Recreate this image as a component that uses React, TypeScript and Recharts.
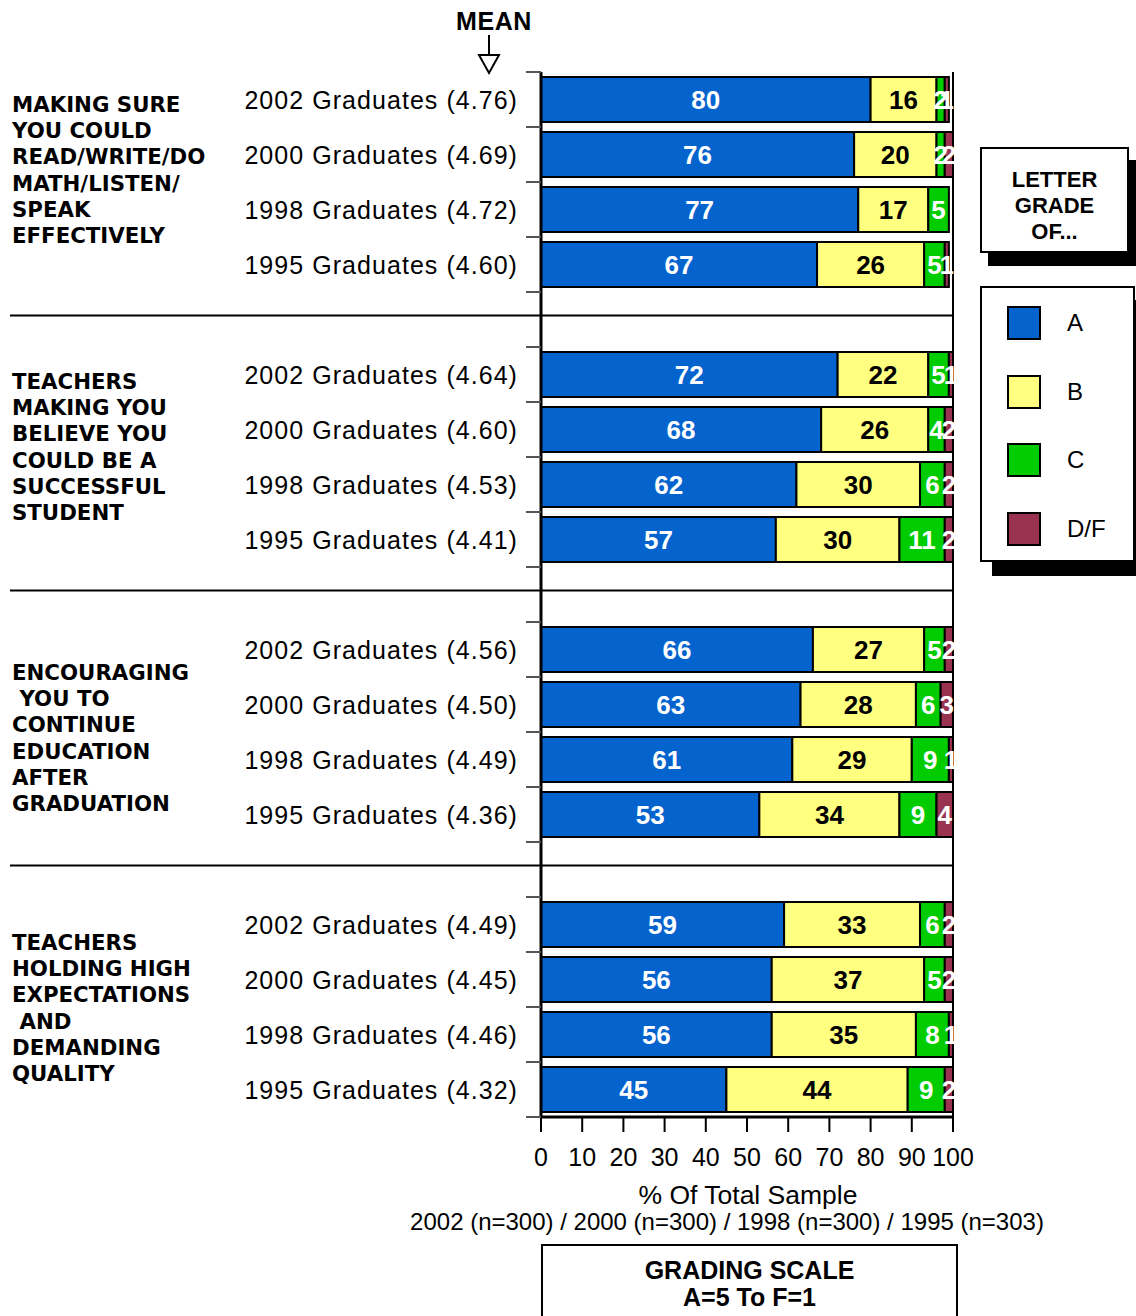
import React from "react"
import { Bar, BarChart, LabelList, ReferenceLine, XAxis, YAxis } from "recharts"

const groups = [
  ["MAKING SURE", "YOU COULD", "READ/WRITE/DO", "MATH/LISTEN/", "SPEAK", "EFFECTIVELY"],
  ["TEACHERS", "MAKING YOU", "BELIEVE YOU", "COULD BE A", "SUCCESSFUL", "STUDENT"],
  ["ENCOURAGING", " YOU TO", "CONTINUE", "EDUCATION", "AFTER", "GRADUATION"],
  ["TEACHERS", "HOLDING HIGH", "EXPECTATIONS", " AND", "DEMANDING", "QUALITY"],
]
const years = ["2002 Graduates", "2000 Graduates", "1998 Graduates", "1995 Graduates"]
const means = [
  [4.76, 4.69, 4.72, 4.6],
  [4.64, 4.6, 4.53, 4.41],
  [4.56, 4.5, 4.49, 4.36],
  [4.49, 4.45, 4.46, 4.32],
]
const gradeA = [
  [80, 76, 77, 67],
  [72, 68, 62, 57],
  [66, 63, 61, 53],
  [59, 56, 56, 45],
]
const gradeB = [
  [16, 20, 17, 26],
  [22, 26, 30, 30],
  [27, 28, 29, 34],
  [33, 37, 35, 44],
]
const gradeC = [
  [2, 2, 5, 5],
  [5, 4, 6, 11],
  [5, 6, 9, 9],
  [6, 5, 8, 9],
]
const gradeDF = [
  [1, 2, 0, 1],
  [1, 2, 2, 2],
  [2, 3, 1, 4],
  [2, 2, 1, 2],
]
const xTicks = [0, 10, 20, 30, 40, 50, 60, 70, 80, 90, 100]
const samples = "2002 (n=300) / 2000 (n=300) / 1998 (n=300) / 1995 (n=303)"

const series = [
  { key: "A", name: "A", color: "#0563CE", text: "#fff" },
  { key: "B", name: "B", color: "#FFFF80", text: "#000" },
  { key: "C", name: "C", color: "#00CC00", text: "#fff" },
  { key: "DF", name: "D/F", color: "#993350", text: "#fff" },
]

const FONT = "'Liberation Sans', Arial, sans-serif"
const W = 1136
const H = 1316
const M = { top: 72, right: 183, bottom: 139, left: 0 }
const X_AXIS_H = 60
const Y_AXIS_W = 541

type Row = { key: string; gap?: boolean; group?: number; idx?: number; label?: string; mean?: number; A?: number; B?: number; C?: number; DF?: number }

const rows: Row[] = []
groups.forEach((_, g) => {
  if (g > 0) rows.push({ key: `gap-${g}`, gap: true })
  years.forEach((y, i) => {
    rows.push({
      key: `${g}-${i}`,
      group: g,
      idx: i,
      label: y,
      mean: means[g][i],
      A: gradeA[g][i],
      B: gradeB[g][i],
      C: gradeC[g][i],
      DF: gradeDF[g][i],
    })
  })
})
const byKey: Record<string, Row> = Object.fromEntries(rows.map((r) => [r.key, r]))
const band = (H - M.top - M.bottom - X_AXIS_H) / rows.length
const labelShift = [-12, -10, 6, 1]

function RowTick(props: any) {
  const { y, payload } = props
  const row = byKey[payload.value]
  const axisX = Y_AXIS_W
  const ticks = (
    <>
      <line x1={axisX - 15} x2={axisX} y1={y - band / 2} y2={y - band / 2} stroke="#555" strokeWidth={2} />
      <line x1={axisX - 15} x2={axisX} y1={y + band / 2} y2={y + band / 2} stroke="#555" strokeWidth={2} />
    </>
  )
  if (!row || row.gap) {
    return (
      <g>
        {ticks}
        <line x1={10} x2={W - M.right} y1={y - 4} y2={y - 4} stroke="#000" strokeWidth={2} />
      </g>
    )
  }
  const lines = groups[row.group!]
  return (
    <g>
      {ticks}
      <text x={axisX - 23} y={y} textAnchor="end" dominantBaseline="central" fontFamily={FONT} fontSize={25} letterSpacing={1.05} fill="#000">
        {`${row.label} (${row.mean!.toFixed(2)})`}
      </text>
      {row.idx === 1 && (
        <text fontFamily="'DejaVu Sans', Verdana, sans-serif" fontWeight="bold" fontSize={21.3} fill="#000" xmlSpace="preserve">
          {lines.map((l, i) => (
            <tspan key={i} x={12} y={y + band / 2 + labelShift[row.group!] + (i - (lines.length - 1) / 2) * 26.2} dominantBaseline="central">
              {l}
            </tspan>
          ))}
        </text>
      )}
    </g>
  )
}

function segLabel(color: string) {
  return (p: any) => {
    const { x, y, width, height, value } = p
    if (!value) return null
    return (
      <text x={x + width / 2} y={y + height / 2} textAnchor="middle" dominantBaseline="central" fontFamily={FONT} fontWeight="bold" fontSize={26} fill={color}>
        {value}
      </text>
    )
  }
}

const boxStyle: React.CSSProperties = {
  position: "absolute",
  border: "2px solid #000",
  background: "#fff",
  boxSizing: "border-box",
}

export default function App() {
  return (
    <div style={{ position: "absolute", left: 0, top: 0, width: W, height: H, background: "#fff", fontFamily: FONT, overflow: "hidden" }}>
      <BarChart width={W} height={H} data={rows} layout="vertical" margin={M} barCategoryGap={5}>
        <XAxis
          type="number"
          domain={[0, 100]}
          ticks={xTicks}
          interval={0}
          height={X_AXIS_H}
          tickSize={15}
          tickMargin={16}
          axisLine={{ stroke: "#000", strokeWidth: 3 }}
          tickLine={{ stroke: "#000", strokeWidth: 2 }}
          tick={{ fill: "#000", fontSize: 25, fontFamily: FONT }}
        />
        <XAxis xAxisId="top" orientation="top" type="number" domain={[0, 100]} height={0} tick={false} tickLine={false} axisLine={{ stroke: "#000", strokeWidth: 2 }} />
        <YAxis
          type="category"
          dataKey="key"
          width={Y_AXIS_W}
          interval={0}
          tickLine={false}
          axisLine={{ stroke: "#000", strokeWidth: 3 }}
          tick={<RowTick />}
        />
        <ReferenceLine x={100} stroke="#000" strokeWidth={2} />
        {series.map((s) => (
          <Bar key={s.key} dataKey={s.key} name={s.name} stackId="g" fill={s.color} stroke="#000" strokeWidth={2} isAnimationActive={false}>
            <LabelList dataKey={s.key} content={segLabel(s.text)} />
          </Bar>
        ))}
      </BarChart>

      <svg style={{ position: "absolute", left: 0, top: 0 }} width={W} height={90}>
        <text x={494} y={21} textAnchor="middle" dominantBaseline="central" fontFamily={FONT} fontWeight="bold" fontSize={25} letterSpacing={0.6}>
          MEAN
        </text>
        <line x1={489} x2={489} y1={35} y2={55} stroke="#000" strokeWidth={2} />
        <polygon points="479,55 499,55 489,73" fill="#fff" stroke="#000" strokeWidth={2} />
      </svg>

      <div style={{ position: "absolute", left: 540, width: 416, top: 1180, textAlign: "center", fontSize: 26.5, lineHeight: "30px", whiteSpace: "nowrap" }}>
        % Of Total Sample
      </div>
      <div style={{ position: "absolute", left: 327, width: 800, top: 1207, textAlign: "center", fontSize: 24, lineHeight: "30px", whiteSpace: "nowrap" }}>
        {samples}
      </div>

      <div style={{ ...boxStyle, left: 541, top: 1244, width: 417, height: 90, textAlign: "center", fontWeight: "bold", fontSize: 25, lineHeight: "27px", paddingTop: 11 }}>
        GRADING SCALE
        <br />
        A=5 To F=1
      </div>

      <div style={{ ...boxStyle, left: 980, top: 147, width: 149, height: 106, boxShadow: "8px 13px 0 #000", textAlign: "center", fontWeight: "bold", fontSize: 22, lineHeight: "26px", paddingTop: 18 }}>
        LETTER
        <br />
        GRADE
        <br />
        OF...
      </div>

      <div style={{ ...boxStyle, left: 980, top: 286, width: 155, height: 276, boxShadow: "12px 14px 0 #000" }}>
        {series.map((s, i) => (
          <div key={s.key} style={{ position: "absolute", left: 25, top: 18 + i * 68.7, display: "flex", alignItems: "center" }}>
            <div style={{ width: 34, height: 34, boxSizing: "border-box", background: s.color, border: "2px solid #000" }} />
            <span style={{ marginLeft: 26, fontSize: 24 }}>{s.name}</span>
          </div>
        ))}
      </div>
    </div>
  )
}
